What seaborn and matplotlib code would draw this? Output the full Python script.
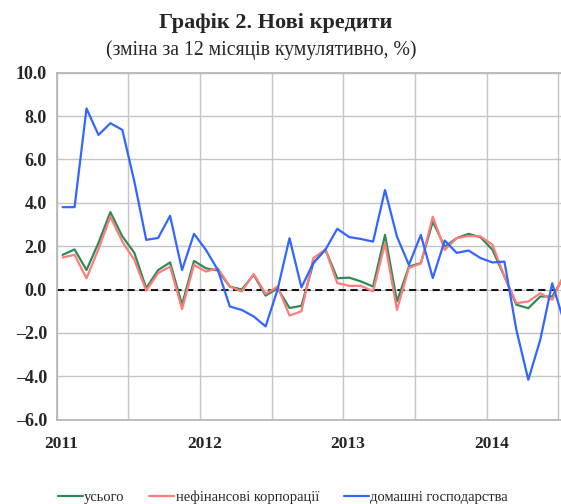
import numpy as np
import pandas as pd
import seaborn as sns
import matplotlib.pyplot as plt

# monthly values, Jan 2011 .. Jul 2014 (% change, 12 months cumulative)
months = pd.date_range("2011-01-01", "2014-07-01", freq="MS")

total = [1.6, 1.85, 0.9, 2.15, 3.57, 2.45, 1.7, 0.06, 0.9, 1.25,
         -0.7, 1.32, 0.98, 0.88, 0.14, 0.0, 0.68, -0.28, 0.06, -0.85,
         -0.75, 1.22, 1.85, 0.52, 0.55, 0.37, 0.14, 2.52, -0.55, 1.06,
         1.22, 3.13, 1.98, 2.37, 2.57, 2.41, 1.83, 0.6, -0.7, -0.86,
         -0.32, -0.32, 0.6]
corporates = [1.48, 1.6, 0.52, 1.86, 3.36, 2.21, 1.37, -0.05, 0.76, 1.06,
              -0.9, 1.14, 0.83, 0.98, 0.14, -0.09, 0.72, -0.2, 0.14, -1.2,
              -1.0, 1.45, 1.85, 0.3, 0.17, 0.17, -0.09, 2.14, -0.94, 1.0,
              1.2, 3.36, 1.83, 2.37, 2.47, 2.45, 2.06, 0.6, -0.63, -0.55,
              -0.17, -0.47, 0.7]
households = [3.8, 3.8, 8.35, 7.13, 7.67, 7.36, 5.0, 2.29, 2.38, 3.4,
              0.9, 2.57, 1.83, 0.9, -0.78, -0.94, -1.24, -1.7, 0.0, 2.37,
              0.1, 1.23, 1.83, 2.8, 2.42, 2.33, 2.21, 4.59, 2.44, 1.14,
              2.52, 0.53, 2.26, 1.69, 1.8, 1.45, 1.25, 1.29, -1.86, -4.16,
              -2.32, 0.29, -1.5]

labels = ["усього", "нефінансові корпорації", "домашні господарства"]
colors = ["#2e8b57", "#ff7c7c", "#3366ff"]
year_labels = ["2011", "2012", "2013", "2014"]

pos = np.arange(len(months)) + 0.5  # middle of each month slot
df = pd.DataFrame({"pos": pos, labels[0]: total, labels[1]: corporates,
                   labels[2]: households})
long = df.melt(id_vars="pos", var_name="series", value_name="value")

sns.set_style("white")
plt.rcParams["font.family"] = ["Liberation Serif", "DejaVu Serif"]

fig = plt.figure(figsize=(5.61, 5.04), dpi=100)
ax = fig.add_axes([0.101, 0.1673, 0.9046, 0.6885])

sns.lineplot(data=long, x="pos", y="value", hue="series", hue_order=labels,
             palette=colors, linewidth=1.6, ax=ax)
handles, labs = ax.get_legend_handles_labels()
ax.get_legend().remove()

ax.axhline(0, color="black", linewidth=1.3, linestyle=(0, (4, 2.5)), zorder=1)

ax.set_xlim(0, 42.5)
ax.set_ylim(-6, 10)
ax.set_xticks(np.arange(0, 43, 6))
ax.set_xticks(np.arange(len(year_labels)) * 12 + 0.4, minor=True)
ax.set_xticklabels([])
ax.set_xticklabels(year_labels, minor=True)
ax.set_yticks(np.arange(-6, 10.1, 2))
ax.set_yticklabels([f"{v:.1f}".replace("-", "–") for v in np.arange(-6, 10.1, 2)])
ax.set_xlabel("")
ax.set_ylabel("")

ax.grid(True, color="#c4c4c4", linewidth=1.0)
ax.tick_params(axis="x", which="both", length=0)
ax.tick_params(axis="x", which="minor", pad=12, labelsize=12.5)
ax.tick_params(axis="y", length=5, width=1, color="#b0b0b0", pad=2, labelsize=13)
for lab in ax.get_yticklabels() + ax.get_xticklabels(minor=True):
    lab.set_fontweight("bold")
for side in ["left", "bottom", "top"]:
    ax.spines[side].set_color("#b8b8b8")
    ax.spines[side].set_linewidth(1.3)
ax.spines["right"].set_visible(False)

fig.text(0.492, 1 - 28 / 504, "Графік 2. Нові кредити", ha="center",
         va="baseline", fontsize=16, fontweight="bold")
fig.text(0.466, 1 - 55 / 504, "(зміна за 12 місяців кумулятивно, %)",
         ha="center", va="baseline", fontsize=14.2)

fig.legend(handles, labs, loc="center", bbox_to_anchor=(0.504, 1 - 497 / 504),
           ncol=3, frameon=False, fontsize=10.5, handlelength=1.7,
           handletextpad=0.1, columnspacing=1.7, borderaxespad=0)

fig.savefig("out.png", dpi=100)
